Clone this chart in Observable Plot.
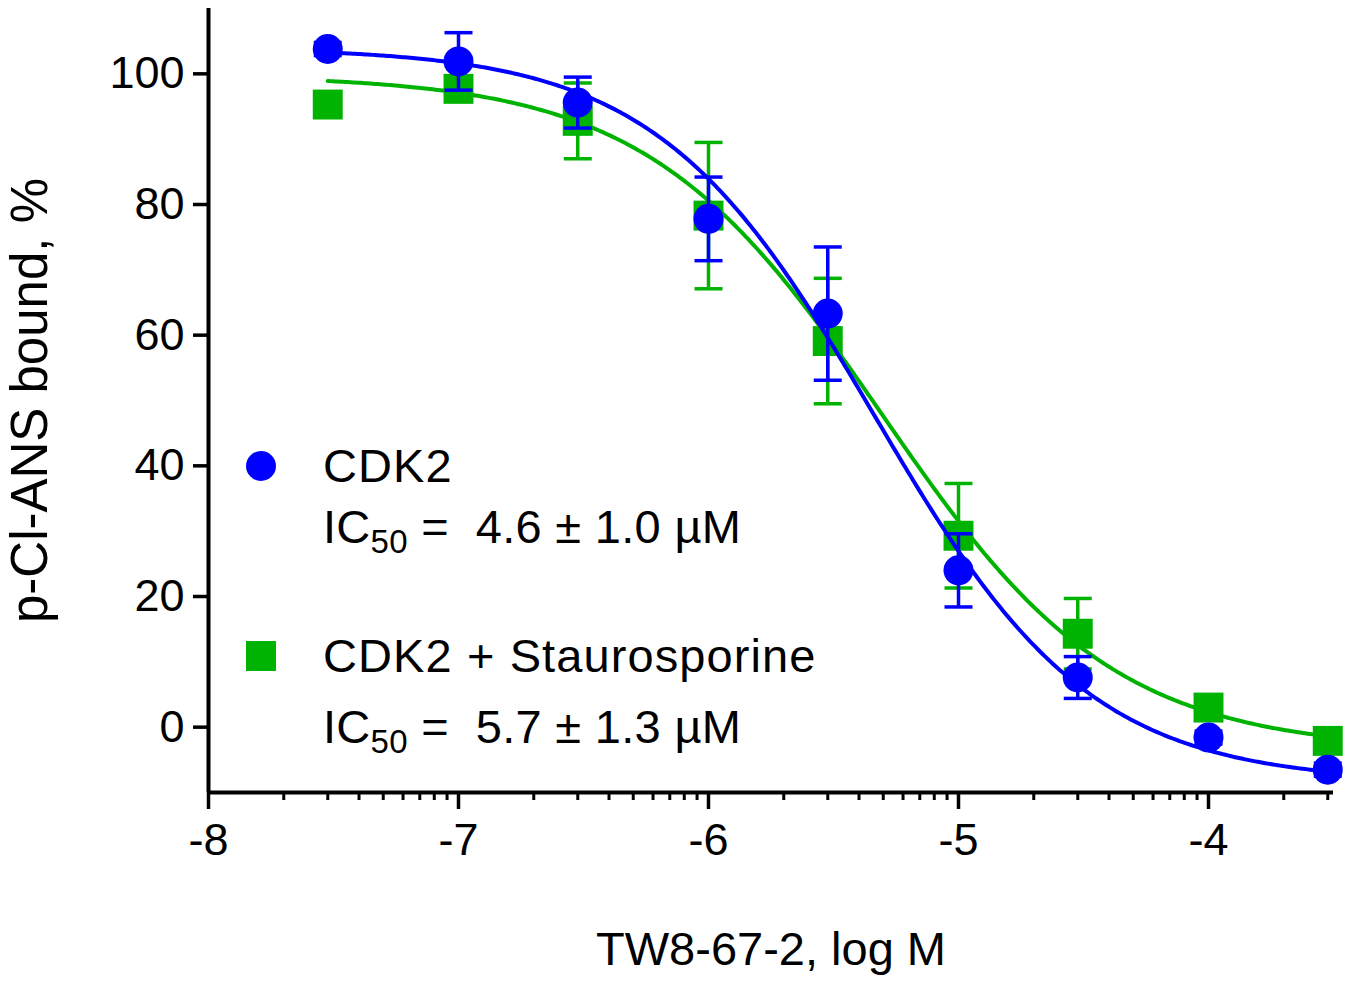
<!DOCTYPE html>
<html>
<head>
<meta charset="utf-8">
<script src="https://cdn.jsdelivr.net/npm/d3@7"></script>
<script src="https://cdn.jsdelivr.net/npm/@observablehq/plot@0.6"></script>
<style>
  html, body { margin: 0; padding: 0; background: #fff; }
  #wrap { position: relative; width: 1350px; height: 983px; }
  #legend { position: absolute; left: 0; top: 0; pointer-events: none; }
  #legend text { font-family: "Liberation Sans", Arial, sans-serif; fill: #000; }
</style>
</head>
<body>
<div id="wrap"></div>
<script>
// ---- data ----
// concentrations 3e-8, 1e-7, 3e-7, ... 3e-4 M, as log M
const logConc = [-7.523, -7, -6.523, -6, -5.523, -5, -4.523, -4, -3.523];
const cdk2Mean = [103.8, 101.9, 95.6, 77.8, 63.3, 24.0, 7.6, -1.6, -6.5];
const cdk2Sem  = [1.0, 4.4, 3.9, 6.4, 10.2, 5.6, 3.2, 1.0, 1.0];
const stauroMean = [95.3, 97.7, 92.8, 78.3, 59.1, 29.3, 14.3, 3.0, -2.1];
const stauroSem  = [1.0, 1.5, 5.8, 11.2, 9.6, 8.0, 5.4, 1.0, 1.0];
// four-parameter logistic fit curves as drawn: [top, bottom, logIC50, hill]
const cdk2Fit = [104.0, -8.5, -5.337, 1.0];
const stauroFit = [99.8, -3.6, -5.31, 0.93];
const majorXTicks = [-8, -7, -6, -5, -4];
const yTicks = [0, 20, 40, 60, 80, 100];
const seriesNames = ["CDK2", "CDK2 + Staurosporine"];
const ic50Labels = ["4.6 \u00b1 1.0 \u00b5M", "5.7 \u00b1 1.3 \u00b5M"];
const xLabel = "TW8-67-2, log M";
const yLabel = "p-Cl-ANS bound, %";

const BLUE = "#0000ff", GREEN = "#00b300";

// minor (log-decade) ticks
const minorXTicks = [];
for (let dec = -8; dec < -3.5; dec++) {
  for (let k = 2; k <= 9; k++) {
    const v = dec + Math.log10(k);
    if (v <= -3.5) minorXTicks.push(v);
  }
}

function rows(mean, sem) {
  return logConc.map((x, i) => ({x, y: mean[i], e: sem[i]}));
}
function fitCurve([top, bottom, lx50, hill]) {
  const x0 = logConc[0], x1 = logConc[logConc.length - 1];
  return d3.range(0, 401).map(i => {
    const x = x0 + i * (x1 - x0) / 400;
    return {x, y: bottom + (top - bottom) / (1 + Math.pow(10, (x - lx50) * hill))};
  });
}
const cap = {draw(ctx, size) { const w = Math.sqrt(size / Math.PI); ctx.moveTo(-w, 0); ctx.lineTo(w, 0); }};

function seriesMarks(data, curve, color, symbol, r) {
  return [
    Plot.line(curve, {x: "x", y: "y", stroke: color, strokeWidth: 4}),
    Plot.ruleX(data, {x: "x", y1: d => d.y - d.e, y2: d => d.y + d.e, stroke: color, strokeWidth: 3.5}),
    Plot.dot(data, {x: "x", y: d => d.y + d.e, symbol: cap, r: 14, fill: "none", stroke: color, strokeWidth: 3.5}),
    Plot.dot(data, {x: "x", y: d => d.y - d.e, symbol: cap, r: 14, fill: "none", stroke: color, strokeWidth: 3.5}),
    Plot.dot(data, {x: "x", y: "y", symbol, r, fill: color, stroke: "none"})
  ];
}

const cdk2 = rows(cdk2Mean, cdk2Sem);
const stauro = rows(stauroMean, stauroSem);

const chart = Plot.plot({
  width: 1350, height: 983,
  marginLeft: 208, marginRight: 17, marginTop: 8, marginBottom: 191,
  style: {fontFamily: "'Liberation Sans', Arial, sans-serif", background: "#fff", color: "#000", overflow: "visible"},
  x: {domain: [-8, -3.5]},
  y: {domain: [-10, 110]},
  marks: [
    Plot.axisX({ticks: minorXTicks, tickSize: 8, strokeWidth: 3, tickFormat: () => "", label: null}),
    Plot.axisX({ticks: majorXTicks, tickSize: 17, tickPadding: 14, strokeWidth: 3.5, tickFormat: d => String(d),
      fontSize: 45, label: null}),
    Plot.axisX({ticks: [], tickSize: 0, fontSize: 47, label: xLabel, labelAnchor: "center", labelOffset: 172, labelArrow: "none"}),
    Plot.axisY({ticks: yTicks, tickSize: 15, tickPadding: 9, strokeWidth: 3.5, tickFormat: d => String(d),
      fontSize: 45, label: null}),
    Plot.axisY({ticks: [], tickSize: 0, fontSize: 51, label: yLabel, labelAnchor: "center", labelOffset: 198, labelArrow: "none"}),
    Plot.ruleX([-8], {strokeWidth: 4}),
    Plot.ruleY([-10], {strokeWidth: 4}),
    ...seriesMarks(stauro, fitCurve(stauroFit), GREEN, "square", 16.9),
    ...seriesMarks(cdk2, fitCurve(cdk2Fit), BLUE, "circle", 15)
  ]
});

const wrap = document.getElementById("wrap");
wrap.appendChild(chart);

// legend overlay
const ns = "http://www.w3.org/2000/svg";
const lg = document.createElementNS(ns, "svg");
lg.setAttribute("id", "legend");
lg.setAttribute("width", 1350);
lg.setAttribute("height", 983);
const entries = [
  {name: seriesNames[0], ic: ic50Labels[0], color: BLUE, shape: "circle", cy: 466, base1: 482, base2: 543},
  {name: seriesNames[1], ic: ic50Labels[1], color: GREEN, shape: "square", cy: 656, base1: 672, base2: 743}
];
for (const e of entries) {
  let m;
  if (e.shape === "circle") {
    m = document.createElementNS(ns, "circle");
    m.setAttribute("cx", 261); m.setAttribute("cy", e.cy); m.setAttribute("r", 15);
  } else {
    m = document.createElementNS(ns, "rect");
    m.setAttribute("x", 246); m.setAttribute("y", e.cy - 15); m.setAttribute("width", 30); m.setAttribute("height", 30);
  }
  m.setAttribute("fill", e.color);
  lg.appendChild(m);
  const t1 = document.createElementNS(ns, "text");
  t1.setAttribute("x", 323); t1.setAttribute("y", e.base1); t1.setAttribute("font-size", 47);
  t1.setAttribute("letter-spacing", 1.1);
  t1.textContent = e.name;
  lg.appendChild(t1);
  const t2 = document.createElementNS(ns, "text");
  t2.setAttribute("x", 323); t2.setAttribute("y", e.base2); t2.setAttribute("font-size", 47);
  t2.setAttribute("letter-spacing", 0.3);
  const a = document.createElementNS(ns, "tspan"); a.textContent = "IC";
  const b = document.createElementNS(ns, "tspan"); b.textContent = "50"; b.setAttribute("font-size", 33); b.setAttribute("dy", 10);
  const c = document.createElementNS(ns, "tspan"); c.textContent = " =  " + e.ic; c.setAttribute("dy", -10);
  t2.appendChild(a); t2.appendChild(b); t2.appendChild(c);
  t2.setAttribute("style", "white-space: pre");
  lg.appendChild(t2);
}
wrap.appendChild(lg);
</script>
</body>
</html>
